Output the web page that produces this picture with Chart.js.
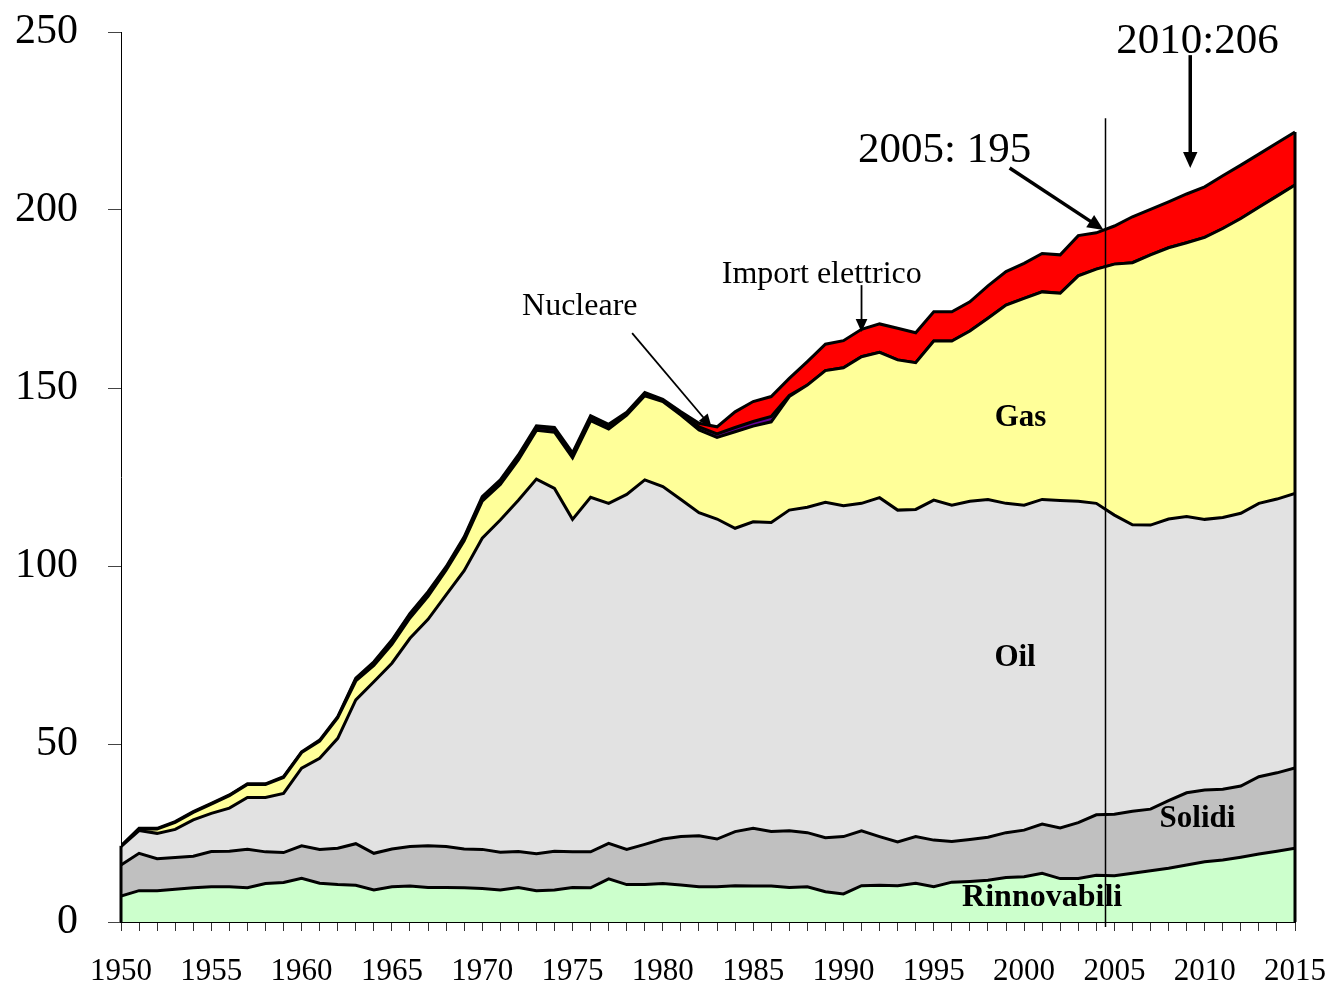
<!DOCTYPE html>
<html lang="it">
<head>
<meta charset="UTF-8">
<title>Consumi energetici</title>
<script src="https://cdn.jsdelivr.net/npm/chart.js"></script>
<style>
  html, body { margin: 0; padding: 0; background: #fff; }
  #wrap { width: 1333px; height: 989px; position: relative; }
</style>
</head>
<body>
<div id="wrap"><canvas id="energyChart"></canvas></div>
<script>
// anni
const years = [
  1950, 1951, 1952, 1953, 1954, 1955, 1956, 1957, 1958, 1959,
  1960, 1961, 1962, 1963, 1964, 1965, 1966, 1967, 1968, 1969,
  1970, 1971, 1972, 1973, 1974, 1975, 1976, 1977, 1978, 1979,
  1980, 1981, 1982, 1983, 1984, 1985, 1986, 1987, 1988, 1989,
  1990, 1991, 1992, 1993, 1994, 1995, 1996, 1997, 1998, 1999,
  2000, 2001, 2002, 2003, 2004, 2005, 2006, 2007, 2008, 2009,
  2010, 2011, 2012, 2013, 2014, 2015
];
const yTicks = [0, 50, 100, 150, 200, 250];

// serie
const rinnovabili = [
  7.3, 8.8, 8.8, 9.2, 9.6, 9.9, 9.9, 9.6, 10.8, 11.1,
  12.3, 10.9, 10.5, 10.3, 9.0, 9.9, 10.1, 9.7, 9.7, 9.6,
  9.4, 9.0, 9.7, 8.8, 9.0, 9.7, 9.6, 12.1, 10.5, 10.5,
  10.8, 10.4, 9.9, 9.9, 10.2, 10.1, 10.1, 9.7, 9.9, 8.5,
  7.9, 10.2, 10.3, 10.2, 10.9, 9.9, 11.2, 11.4, 11.7, 12.5,
  12.7, 13.7, 12.2, 12.2, 13.1, 13.0, 13.7, 14.4, 15.1, 16.0,
  16.9, 17.4, 18.2, 19.1, 19.9, 20.7
];
const solidi = [
  8.7, 10.5, 9.0, 8.9, 8.9, 9.9, 10.0, 10.8, 8.9, 8.4,
  9.1, 9.5, 10.2, 11.7, 10.3, 10.6, 11.1, 11.7, 11.5, 10.9,
  11.0, 10.6, 10.1, 10.4, 10.9, 10.0, 10.1, 10.0, 9.9, 11.3,
  12.5, 13.6, 14.3, 13.4, 15.2, 16.2, 15.3, 15.9, 15.2, 15.2,
  16.1, 15.4, 13.7, 12.3, 13.1, 13.1, 11.4, 11.8, 12.1, 12.6,
  13.1, 13.8, 14.2, 15.7, 17.0, 17.3, 17.4, 17.3, 19.0, 20.3,
  20.2, 19.9, 20.0, 21.7, 22.0, 22.6
];
const oil = [
  5.2, 6.4, 7.1, 7.9, 10.2, 10.7, 12.1, 14.6, 15.3, 16.6,
  21.8, 25.6, 30.9, 40.4, 48.2, 52.2, 58.5, 63.6, 70.7, 78.2,
  87.4, 93.3, 98.7, 105.2, 101.9, 93.4, 99.6, 95.5, 99.7, 102.4,
  99.0, 94.7, 90.8, 89.9, 85.2, 86.1, 86.8, 90.1, 91.4, 94.2,
  92.9, 92.0, 95.2, 93.2, 91.9, 95.5, 94.5, 95.0, 94.9, 92.5,
  91.3, 91.2, 92.0, 90.3, 87.5, 84.0, 80.5, 79.8, 79.1, 77.6,
  76.0, 76.3, 76.6, 76.8, 76.9, 77.1
];
const gas = [
  0.0, 0.4, 1.2, 2.0, 2.1, 2.6, 3.5, 3.6, 3.6, 4.5,
  4.4, 4.8, 5.8, 5.3, 4.6, 5.3, 5.7, 6.5, 6.9, 8.4,
  10.4, 10.0, 11.3, 13.7, 15.8, 17.3, 21.5, 20.9, 22.3, 23.6,
  23.9, 23.7, 23.2, 22.9, 27.1, 26.9, 28.3, 31.9, 34.3, 37.0,
  38.8, 41.2, 40.8, 42.2, 41.2, 44.7, 46.1, 47.8, 50.9, 55.7,
  58.1, 58.3, 58.2, 63.3, 65.8, 70.5, 73.6, 75.9, 76.2, 76.9,
  79.2, 81.2, 82.8, 83.2, 85.1, 86.6
];
const nucleare = [
  0, 0, 0, 0, 0, 0, 0, 0, 0, 0,
  0, 0, 0, 0.5, 0.7, 0.9, 1.0, 0.9, 0.6, 0.7,
  0.8, 0.8, 0.9, 0.8, 0.8, 0.9, 0.9, 0.8, 0.5, 0.5,
  0.2, 0.3, 0.9, 1.0, 1.2, 1.3, 1.5, 0.3, 0, 0,
  0, 0, 0, 0, 0, 0, 0, 0, 0, 0,
  0, 0, 0, 0, 0, 0, 0, 0, 0, 0,
  0, 0, 0, 0, 0, 0
];
const importElettrico = [
  0.2, 0.2, 0.2, 0.2, 0.2, 0.2, 0.2, 0.2, 0.2, 0.2,
  0.2, 0.3, 0.3, 0.3, 0.3, 0.3, 0.3, 0.4, 0.4, 0.4,
  0.5, 0.5, 0.5, 0.5, 0.5, 0.5, 0.5, 0.5, 0.3, 0.4,
  0.4, 0.6, 1.0, 2.0, 4.4, 5.6, 5.6, 4.8, 6.6, 7.4,
  7.6, 7.7, 8.0, 8.9, 8.4, 8.2, 8.2, 8.2, 9.1, 9.4,
  9.8, 10.8, 10.8, 11.3, 10.2, 10.7, 12.9, 12.8, 12.9, 13.7,
  14.2, 14.8, 15.0, 14.9, 14.9, 14.9
];

const SERIF = "'Liberation Serif', 'Times New Roman', serif";

function points(vals) {
  return years.map((yr, i) => ({ x: yr, y: vals[i] }));
}

function area(label, vals, color, fill) {
  return {
    label: label,
    data: points(vals),
    backgroundColor: color,
    borderColor: '#000',
    borderWidth: 3,
    pointRadius: 0,
    tension: 0,
    fill: fill
  };
}

// niente padding automatico per le etichette: l'area del grafico resta fissa
function fixBox(scale, w, h) {
  if (w) scale.width = w;
  if (h) scale.height = h;
  scale.paddingTop = 0;
  scale.paddingBottom = 0;
  scale.paddingLeft = 0;
  scale.paddingRight = 0;
}

// etichette e frecce, in coordinate dei dati
const textNotes = [
  { text: '2010:206', x: 2009.6, y: 247.3, font: '43px ' + SERIF },
  { text: '2005: 195', x: 1995.6, y: 216.6, font: '43px ' + SERIF },
  { text: 'Import elettrico', x: 1988.8, y: 181.9, font: '32px ' + SERIF },
  { text: 'Nucleare', x: 1975.4, y: 172.9, font: '32px ' + SERIF },
  { text: 'Gas', x: 1999.8, y: 141.6, font: 'bold 31px ' + SERIF },
  { text: 'Oil', x: 1999.5, y: 74.2, font: 'bold 31px ' + SERIF },
  { text: 'Solidi', x: 2009.6, y: 29.0, font: 'bold 31px ' + SERIF },
  { text: 'Rinnovabili', x: 2001.0, y: 6.9, font: 'bold 32px ' + SERIF }
];
const arrowNotes = [
  { from: [2009.2, 243.5], to: [2009.2, 211.8], width: 3.5, head: 16 },
  { from: [1999.2, 211.8], to: [2004.4, 194.4], width: 3.5, head: 16 },
  { from: [1991.0, 178.9], to: [1991.0, 165.7], width: 1.8, head: 13 },
  { from: [1978.3, 165.4], to: [1982.7, 139.0], width: 1.8, head: 13 }
];
const markerYear = 2004.5;
const markerTop = 225.8;

function drawArrow(ctx, x1, y1, x2, y2, width, head) {
  const ang = Math.atan2(y2 - y1, x2 - x1);
  ctx.save();
  ctx.strokeStyle = '#000';
  ctx.fillStyle = '#000';
  ctx.lineWidth = width;
  ctx.beginPath();
  ctx.moveTo(x1, y1);
  ctx.lineTo(x2 - Math.cos(ang) * head * 0.8, y2 - Math.sin(ang) * head * 0.8);
  ctx.stroke();
  ctx.beginPath();
  ctx.moveTo(x2, y2);
  ctx.lineTo(x2 - head * Math.cos(ang) + head * 0.45 * Math.sin(ang),
             y2 - head * Math.sin(ang) - head * 0.45 * Math.cos(ang));
  ctx.lineTo(x2 - head * Math.cos(ang) - head * 0.45 * Math.sin(ang),
             y2 - head * Math.sin(ang) + head * 0.45 * Math.cos(ang));
  ctx.closePath();
  ctx.fill();
  ctx.restore();
}

// bordi verticali dell'area (come in Excel) + note
const notesPlugin = {
  id: 'notes',
  afterDatasetsDraw(chart) {
    const ctx = chart.ctx;
    const ys = chart.scales.y;
    const topMeta = chart.getDatasetMeta(chart.data.datasets.length - 1);
    ctx.save();
    ctx.strokeStyle = '#000';
    ctx.lineWidth = 3;
    [0, years.length - 1].forEach(i => {
      const px = topMeta.data[i].x;
      ctx.beginPath();
      ctx.moveTo(px, ys.getPixelForValue(0));
      ctx.lineTo(px, topMeta.data[i].y);
      ctx.stroke();
    });
    ctx.restore();
  },
  afterDraw(chart) {
    const ctx = chart.ctx;
    const xs = chart.scales.x, ys = chart.scales.y;
    ctx.save();
    ctx.fillStyle = '#000';
    ctx.textAlign = 'center';
    ctx.textBaseline = 'middle';
    textNotes.forEach(n => {
      ctx.font = n.font;
      ctx.fillText(n.text, xs.getPixelForValue(n.x), ys.getPixelForValue(n.y));
    });
    // linea verticale
    const vx = Math.round(xs.getPixelForValue(markerYear)) + 0.5;
    ctx.strokeStyle = '#000';
    ctx.lineWidth = 1.5;
    ctx.beginPath();
    ctx.moveTo(vx, ys.getPixelForValue(markerTop));
    ctx.lineTo(vx, ys.getPixelForValue(0) + 5);
    ctx.stroke();
    ctx.restore();
    arrowNotes.forEach(a => {
      drawArrow(ctx,
        xs.getPixelForValue(a.from[0]), ys.getPixelForValue(a.from[1]),
        xs.getPixelForValue(a.to[0]), ys.getPixelForValue(a.to[1]),
        a.width, a.head);
    });
  }
};

new Chart(document.getElementById('energyChart'), {
  type: 'line',
  data: {
    datasets: [
      area('Rinnovabili', rinnovabili, '#CCFFCC', 'origin'),
      area('Solidi', solidi, '#C0C0C0', '-1'),
      area('Oil', oil, '#E2E2E2', '-1'),
      area('Gas', gas, '#FFFF99', '-1'),
      area('Nucleare', nucleare, '#660099', '-1'),
      area('Import elettrico', importElettrico, '#FF0000', '-1')
    ]
  },
  options: {
    responsive: true,
    maintainAspectRatio: false,
    animation: false,
    layout: { padding: { top: 32, right: 38, left: 0, bottom: 0 } },
    plugins: {
      legend: { display: false },
      tooltip: { enabled: false }
    },
    scales: {
      x: {
        type: 'linear',
        min: years[0],
        max: years[years.length - 1],
        afterFit(scale) { fixBox(scale, 0, 67); },
        border: { display: true, color: '#000', width: 2 },
        grid: { drawOnChartArea: false, drawTicks: true, tickLength: 9, color: '#333', lineWidth: 1 },
        ticks: {
          stepSize: 1,
          autoSkip: false,
          maxRotation: 0,
          padding: 22,
          color: '#000',
          font: { family: SERIF, size: 31 },
          callback: v => (v % 5 === 0 ? String(v) : '')
        }
      },
      y: {
        stacked: true,
        min: yTicks[0],
        max: yTicks[yTicks.length - 1],
        afterFit(scale) { fixBox(scale, 121, 0); },
        border: { display: true, color: '#000', width: 1 },
        grid: { drawOnChartArea: false, drawTicks: true, tickLength: 13, color: '#444', lineWidth: 1 },
        afterBuildTicks(scale) { scale.ticks = yTicks.map(v => ({ value: v })); },
        ticks: {
          padding: 30,
          color: '#000',
          font: { family: SERIF, size: 42 }
        }
      }
    }
  },
  plugins: [notesPlugin]
});
</script>
</body>
</html>
